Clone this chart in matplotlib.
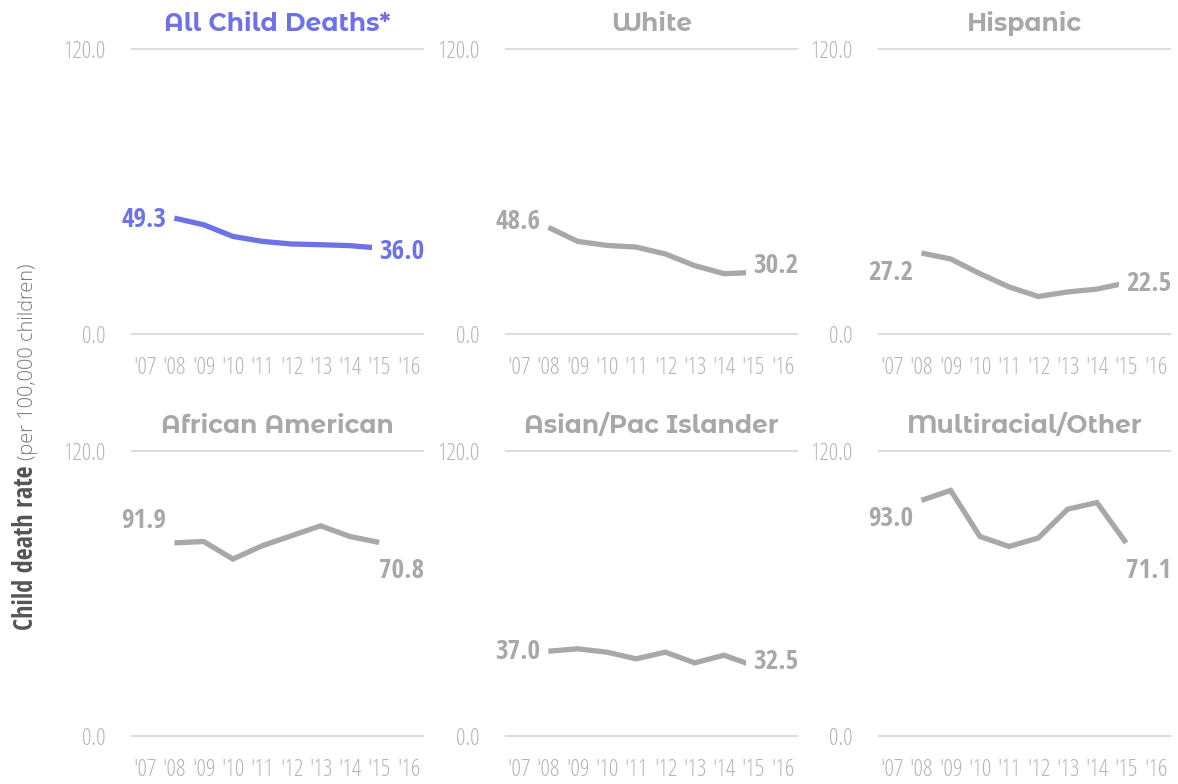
import matplotlib
matplotlib.use("Agg")
import matplotlib.pyplot as plt
from matplotlib import font_manager as fm

# data (rate per 100,000 children)
years = [2008, 2009, 2010, 2011, 2012, 2013, 2014, 2015]
tick_years = list(range(2007, 2017))
tick_labels = ["'07", "'08", "'09", "'10", "'11", "'12", "'13", "'14", "'15", "'16"]

groups = ["All Child Deaths*", "White", "Hispanic",
          "African American", "Asian/Pac Islander", "Multiracial/Other"]

all_child = [48.8, 46.0, 41.1, 39.0, 37.9, 37.6, 37.2, 36.2]
white = [44.9, 39.0, 37.3, 36.6, 33.7, 28.8, 25.4, 25.9]
hispanic = [34.1, 31.6, 25.4, 19.8, 15.8, 17.7, 18.9, 21.5]
african_american = [81.3, 81.9, 74.5, 80.1, 84.3, 88.5, 84.0, 81.5]
asian_pi = [35.7, 36.7, 35.3, 32.5, 35.3, 30.8, 34.0, 29.7]
multiracial = [99.2, 103.4, 84.0, 79.8, 83.4, 95.5, 98.3, 81.3]

first_vals = [49.3, 48.6, 27.2, 91.9, 37.0, 93.0]
last_vals = [36.0, 30.2, 22.5, 70.8, 32.5, 71.1]

series = [all_child, white, hispanic, african_american, asian_pi, multiracial]

BLUE = "#6e72e6"
GRAY = "#a8a8a8"
TICK = "#b5b5b5"
GRID = "#dddddd"


def wnum(w):
    return fm.weight_dict.get(w, 400) if isinstance(w, str) else int(w)


def is_cond(f):
    return ("Cond" in f.name or "Narrow" in f.name
            or f.stretch in ("condensed", "semi-condensed", "extra-condensed"))


def pick(cands, target, prefer):
    # pick a font file: preferred family name first, then weight nearest target
    if not cands:
        return None
    def key(f):
        rank = next((k for k, p in enumerate(prefer) if p in f.name), len(prefer))
        return (rank, abs(wnum(f.weight) - target))
    return fm.FontProperties(fname=sorted(cands, key=key)[0].fname)


fonts = fm.fontManager.ttflist
prefer = ["Open Sans", "Roboto", "DejaVu", "Liberation"]
light_fp = pick([f for f in fonts if is_cond(f) and wnum(f.weight) <= 400], 300, prefer) \
    or fm.FontProperties(family="DejaVu Sans")
bold_fp = pick([f for f in fonts if is_cond(f) and wnum(f.weight) >= 600], 700, prefer) \
    or fm.FontProperties(family="DejaVu Sans", weight="bold")
upright = [f for f in fonts if not is_cond(f) and f.style == "normal"]
title_fp = pick([f for f in upright if wnum(f.weight) >= 600], 700,
                ["Montserrat", "Open Sans", "Lato"])
axis_light_fp = pick([f for f in upright if wnum(f.weight) <= 350], 300,
                     ["Open Sans", "Noto Sans", "Lato", "Roboto"]) or light_fp


def fp(base, size):
    p = base.copy()
    p.set_size(size)
    return p


W, H = 1178, 784
fig = plt.figure(figsize=(W / 100, H / 100), dpi=100)

lefts = [132, 506, 879]
tops = [49, 451]
aw, ah = 291, 285

for i, (name, vals) in enumerate(zip(groups, series)):
    r, c = divmod(i, 3)
    ax = fig.add_axes([lefts[c] / W, 1 - (tops[r] + ah) / H, aw / W, ah / H])
    color = BLUE if i == 0 else GRAY

    for v in (0, 120):
        ax.axhline(v, color=GRID, lw=1.5, clip_on=False, zorder=0)

    ax.plot(years, vals, color=color, lw=3.8, solid_capstyle="butt",
            solid_joinstyle="miter", zorder=2)

    lab = dict(fontproperties=fp(bold_fp, 19.5), color=color,
               textcoords="offset pixels", va="center_baseline",
               bbox=dict(boxstyle="square,pad=0.25", fc="white", ec="none"),
               zorder=5, annotation_clip=False)
    ax.annotate(f"{first_vals[i]:.1f}", xy=(years[0], first_vals[i]),
                xytext=(-8, 0), ha="right", **lab)
    ax.annotate(f"{last_vals[i]:.1f}", xy=(years[-1], last_vals[i]),
                xytext=(0, 0), ha="left", **lab)

    ax.set_xlim(2006.55, 2016.5)
    ax.set_ylim(0, 120)
    ax.set_xticks(tick_years, tick_labels)
    ax.set_yticks([0, 120], ["0.0", "120.0"])
    ax.tick_params(axis="x", length=0, pad=16, labelcolor=TICK)
    ax.tick_params(axis="y", length=0, pad=19, labelcolor=TICK)
    for lbl in ax.get_xticklabels() + ax.get_yticklabels():
        lbl.set_fontproperties(fp(light_fp, 17))
    for s in ax.spines.values():
        s.set_visible(False)

    ax.set_title(name, fontproperties=fp(title_fp, 18), color=color, pad=13)


def fit_len(txt, size, length):
    # scale a rotated label so it spans the given number of pixels
    fig.canvas.draw()
    ext = txt.get_window_extent().height
    txt.set_fontsize(size * length / ext)


# y axis label, bold part followed by light part
t1 = fig.text(33 / W, 1 - 630 / H, "Child death rate", rotation=90,
              rotation_mode="anchor", ha="left", va="baseline",
              fontproperties=fp(bold_fp, 15), color="#555555")
fit_len(t1, 15, 165)
fig.canvas.draw()
bb = t1.get_window_extent()
t2 = fig.text(33 / W, (bb.y1 + 6) / H, "(per 100,000 children)", rotation=90,
              rotation_mode="anchor", ha="left", va="baseline",
              fontproperties=fp(axis_light_fp, 15), color="#777777")
fit_len(t2, 15, 198)

fig.savefig("out.png", dpi=100, facecolor="white")
